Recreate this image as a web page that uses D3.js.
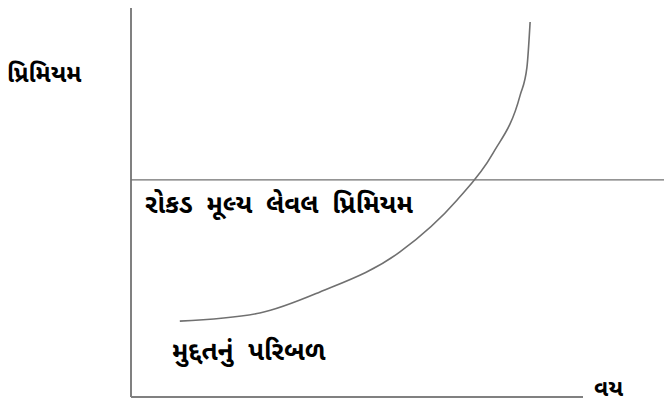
<!DOCTYPE html>
<html>
<head>
<meta charset="utf-8">
<script src="https://cdn.jsdelivr.net/npm/d3@7"></script>
<style>
  body { margin: 0; background: #fff; }
  text { font-family: "Noto Sans Gujarati", "Shruti", "Lohit Gujarati", "Noto Sans", sans-serif; font-weight: bold; fill: #000; }
</style>
</head>
<body>
<div id="chart"></div>
<script>
// age (0-100) vs premium (0-100)
var termAge = [10.8, 28.5, 41.8, 59.5, 72.1, 80.1, 86.1, 87.6, 88.3];
var termPremium = [19.5, 21.6, 27.0, 37.3, 50.6, 62.7, 77.6, 84.8, 96.4];
var levelPremium = 55.8;
var levelAge = [0, 118];

var labels = {
  yAxis: "પ્રિમિયમ",
  xAxis: "વય",
  level: "રોકડ મૂલ્ય લેવલ પ્રિમિયમ",
  term: "મુદ્દતનું પરિબળ"
};

var width = 664, height = 404;

var svg = d3.select("#chart")
  .append("svg")
  .attr("width", width)
  .attr("height", height);

var x = d3.scaleLinear().domain([0, 100]).range([131, 583]);
var y = d3.scaleLinear().domain([0, 100]).range([397, 8]);

// axes, plain lines without ticks
svg.append("line")
  .attr("x1", x(0)).attr("x2", x(0))
  .attr("y1", y(0)).attr("y2", y(100))
  .attr("stroke", "#808080").attr("stroke-width", 2);

svg.append("line")
  .attr("x1", x(0)).attr("x2", x(100))
  .attr("y1", y(0)).attr("y2", y(0))
  .attr("stroke", "#808080").attr("stroke-width", 2);

// level premium line
svg.append("line")
  .attr("x1", x(levelAge[0])).attr("x2", x(levelAge[1]))
  .attr("y1", y(levelPremium)).attr("y2", y(levelPremium))
  .attr("stroke", "#707070").attr("stroke-width", 1.3);

// term curve
var line = d3.line()
  .x(function(d) { return x(d[0]); })
  .y(function(d) { return y(d[1]); })
  .curve(d3.curveMonotoneX);

svg.append("path")
  .datum(d3.zip(termAge, termPremium))
  .attr("d", line)
  .attr("fill", "none")
  .attr("stroke", "#707070")
  .attr("stroke-width", 1.6);

svg.append("text")
  .attr("x", 7).attr("y", 82)
  .style("font-size", "24px")
  .text(labels.yAxis);

svg.append("text")
  .attr("x", 145).attr("y", 213)
  .style("font-size", "26px")
  .style("word-spacing", "7px")
  .text(labels.level);

svg.append("text")
  .attr("x", 172).attr("y", 360)
  .style("font-size", "26px")
  .style("word-spacing", "8px")
  .text(labels.term);

svg.append("text")
  .attr("x", 594).attr("y", 396)
  .style("font-size", "23px")
  .text(labels.xAxis);
</script>
</body>
</html>
